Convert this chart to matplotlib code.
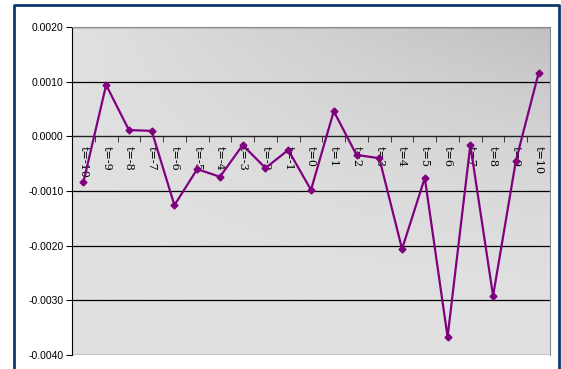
import numpy as np
import matplotlib.pyplot as plt
from matplotlib.lines import Line2D
from matplotlib.ticker import FixedLocator, MultipleLocator, FormatStrFormatter

# data
lags = list(range(-10, 11))
labels = ["t=%d" % t for t in lags]
values = [-0.00084, 0.00094, 0.000115, 0.0001, -0.00126, -0.0006, -0.00074,
          -0.00016, -0.00058, -0.00025, -0.00098, 0.00046, -0.00034, -0.0004,
          -0.00206, -0.00076, -0.00367, -0.00016, -0.00292, -0.00045, 0.00116]

fig = plt.figure(figsize=(5.61, 3.69), dpi=100)
fig.patch.set_facecolor("white")

# dark blue outer frame, open at the bottom (runs off the picture)
fl, fr, ft = 13.5 / 561, 559.0 / 561, 1 - 4.5 / 369
fig.add_artist(Line2D([fl, fl, fr, fr], [-0.1, ft, ft, -0.1],
                      transform=fig.transFigure, color="#0f3a6e", linewidth=2.0))

ax = fig.add_axes([72 / 561, 1 - 355 / 369, 478 / 561, 328 / 369])
n = len(values)
x = np.arange(n)
ax.set_xlim(-0.5, n - 0.5)
ax.set_ylim(-0.004, 0.002)

# gradient background: darkest in the top right corner
gx, gy = np.meshgrid(np.linspace(0, 1, 200), np.linspace(0, 1, 200))
shade = 0.878 - 0.125 * gx * gy ** 2
ax.imshow(shade, cmap="gray", vmin=0, vmax=1, origin="lower", aspect="auto",
          extent=(-0.5, n - 0.5, -0.004, 0.002), zorder=0)

ax.yaxis.set_major_locator(MultipleLocator(0.001))
ax.yaxis.set_major_formatter(FormatStrFormatter("%.4f"))
ax.grid(axis="y", color="black", linewidth=0.9, zorder=1)
ax.set_axisbelow(True)

ax.plot(x, values, color="#800080", linewidth=1.6, marker="D", markersize=3.5, zorder=3)

# category axis sits at zero
ax.spines["bottom"].set_position(("data", 0))
ax.spines["bottom"].set_color("#222222")
ax.spines["left"].set_color("black")
for side in ("top", "right"):
    ax.spines[side].set_color("#8c8c8c")
    ax.spines[side].set_linewidth(0.8)

ax.xaxis.set_major_locator(FixedLocator(x))
ax.set_xticklabels(labels, rotation=270, family="DejaVu Serif", fontsize=8,
                   va="top", ha="center")
ax.xaxis.set_minor_locator(FixedLocator(np.arange(-0.5, n, 1.0)))
ax.tick_params(axis="x", which="major", length=0, pad=7)
ax.tick_params(axis="x", which="minor", length=4, direction="out", color="#222222")
ax.tick_params(axis="y", length=4, direction="out", labelsize=7.5, pad=2)
for lbl in ax.get_yticklabels():
    lbl.set_family("Liberation Sans")

fig.savefig("out.png", dpi=100)
